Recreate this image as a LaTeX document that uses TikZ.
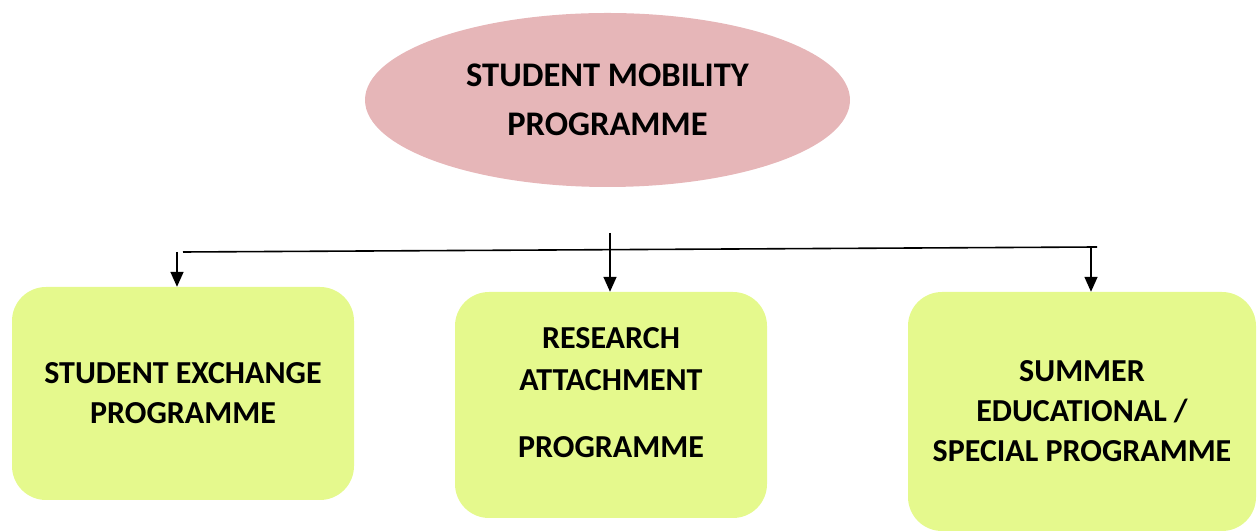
\documentclass[tikz,border=0pt]{standalone}
\usepackage{fontspec}
\setmainfont{Carlito}
\usetikzlibrary{shapes.geometric,arrows.meta}
\definecolor{pinkfill}{RGB}{230,182,184}
\definecolor{limefill}{RGB}{229,249,141}
\tikzset{
  toptitle/.style={ellipse, fill=pinkfill, minimum width=485pt, minimum height=174pt, inner sep=0pt,
    align=center, font=\fontsize{34.5}{49}\selectfont\bfseries},
  progbox/.style={rectangle, rounded corners=34pt, fill=limefill, inner sep=0pt, align=center,
    font=\fontsize{32}{40}\selectfont\bfseries},
  link/.style={line width=1.6pt, black},
  arr/.style={line width=1.6pt, black, -{Triangle[length=15pt,width=13pt]}}
}
\begin{document}
\begin{tikzpicture}[x=1pt,y=1pt]
\useasboundingbox (0,0) rectangle (1258,532);
\node[toptitle] (top) at (607.5,432) {STUDENT MOBILITY\\PROGRAMME};
\node[progbox, minimum width=342pt, minimum height=213pt] (b1) at (183,138.5)
  {STUDENT EXCHANGE\\PROGRAMME};
\node[progbox, minimum width=312pt, minimum height=226pt] (b2) at (611,127)
  {RESEARCH\\[2pt]ATTACHMENT\\[27pt]PROGRAMME\\[-27pt]\strut};
\node[progbox, minimum width=348pt, minimum height=239pt] (b3) at (1082,120.5)
  {SUMMER\\EDUCATIONAL /\\SPECIAL PROGRAMME};
\coordinate (lineL) at (183,280);
\coordinate (lineR) at (1097,285);
\coordinate (midtop) at (610,299);
\coordinate (aL) at (177,280);
\coordinate (aR) at (1091,284);
\draw[link] (lineL) -- (lineR);
\draw[arr] (aL) -- (aL |- b1.north);
\draw[arr] (midtop) -- (midtop |- b2.north);
\draw[arr] (aR) -- (aR |- b3.north);
\end{tikzpicture}
\end{document}
